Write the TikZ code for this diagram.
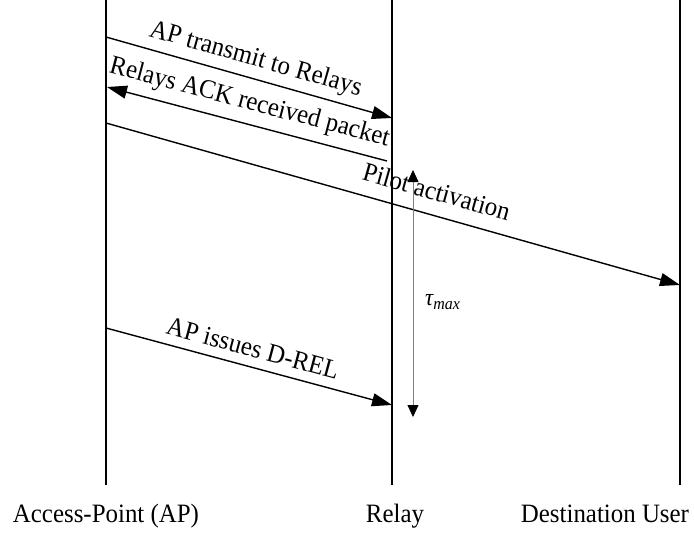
\documentclass[tikz,border=0pt]{standalone}
\usepackage{fontspec}
\setmainfont[FakeStretch=0.94]{Liberation Serif}
\usetikzlibrary{arrows.meta}
\begin{document}
\begin{tikzpicture}[x=1pt,y=-1pt,
  lifeline/.style={line width=1.8pt,black},
  msg/.style={line width=1.4pt,-{Triangle[length=20pt,width=13pt]}},
  msgback/.style={line width=1.4pt,{Triangle[length=20pt,width=13pt]}-},
  lbl/.style={font=\fontsize{26.5}{30}\selectfont,inner sep=0pt,sloped},
  bottomlbl/.style={font=\fontsize{26.5}{30}\selectfont,inner sep=0pt,anchor=base},
  tauarrow/.style={line width=0.8pt,gray,{Triangle[length=12pt,width=11pt,black]}-{Triangle[length=12pt,width=11pt,black]}}
]
\useasboundingbox (0,0) rectangle (694,533);
% lifelines
\coordinate (apT) at (106,0);   \coordinate (apB) at (106,485);
\coordinate (rlT) at (392,0);   \coordinate (rlB) at (392,485);
\coordinate (dsT) at (680,0);   \coordinate (dsB) at (680,485);
\draw[lifeline] (apT) -- (apB);
\draw[lifeline] (rlT) -- (rlB);
\draw[lifeline] (dsT) -- (dsB);
% bottom labels
\node[bottomlbl] (apL) at (106,522) {Access-Point (AP)};
\node[bottomlbl] (rlL) at (395,522) {Relay};
\node[bottomlbl] (dsL) at (605,522) {Destination User};
% message end points
\coordinate (m1s) at (106,37);  \coordinate (m1e) at (392,118);
\coordinate (m2s) at (107,87);  \coordinate (m2e) at (387,161);
\coordinate (m3s) at (106,123); \coordinate (m3e) at (680,285);
\coordinate (m4s) at (106,328); \coordinate (m4e) at (392,405);
\draw[msg] (m1s) -- node[lbl,pos=0.505,above=6pt] {AP transmit to Relays} (m1e);
\draw[msgback] (m2s) -- node[lbl,pos=0.49,above=8pt] {Relays ACK received packet} (m2e);
\draw[msg] (m3s) -- node[lbl,pos=0.565,above=14pt] {Pilot activation} (m3e);
\draw[msg] (m4s) -- node[lbl,pos=0.497,above=9pt] {AP issues D-REL} (m4e);
% tau max
\coordinate (tT) at (413,170); \coordinate (tB) at (413,417);
\draw[tauarrow] (tT) -- (tB);
\node[font=\fontsize{24}{28}\selectfont\itshape,inner sep=0pt,anchor=base west] (tau) at (425,305) {τ\raisebox{-4pt}{\fontsize{17}{20}\selectfont max}};
\end{tikzpicture}
\end{document}
